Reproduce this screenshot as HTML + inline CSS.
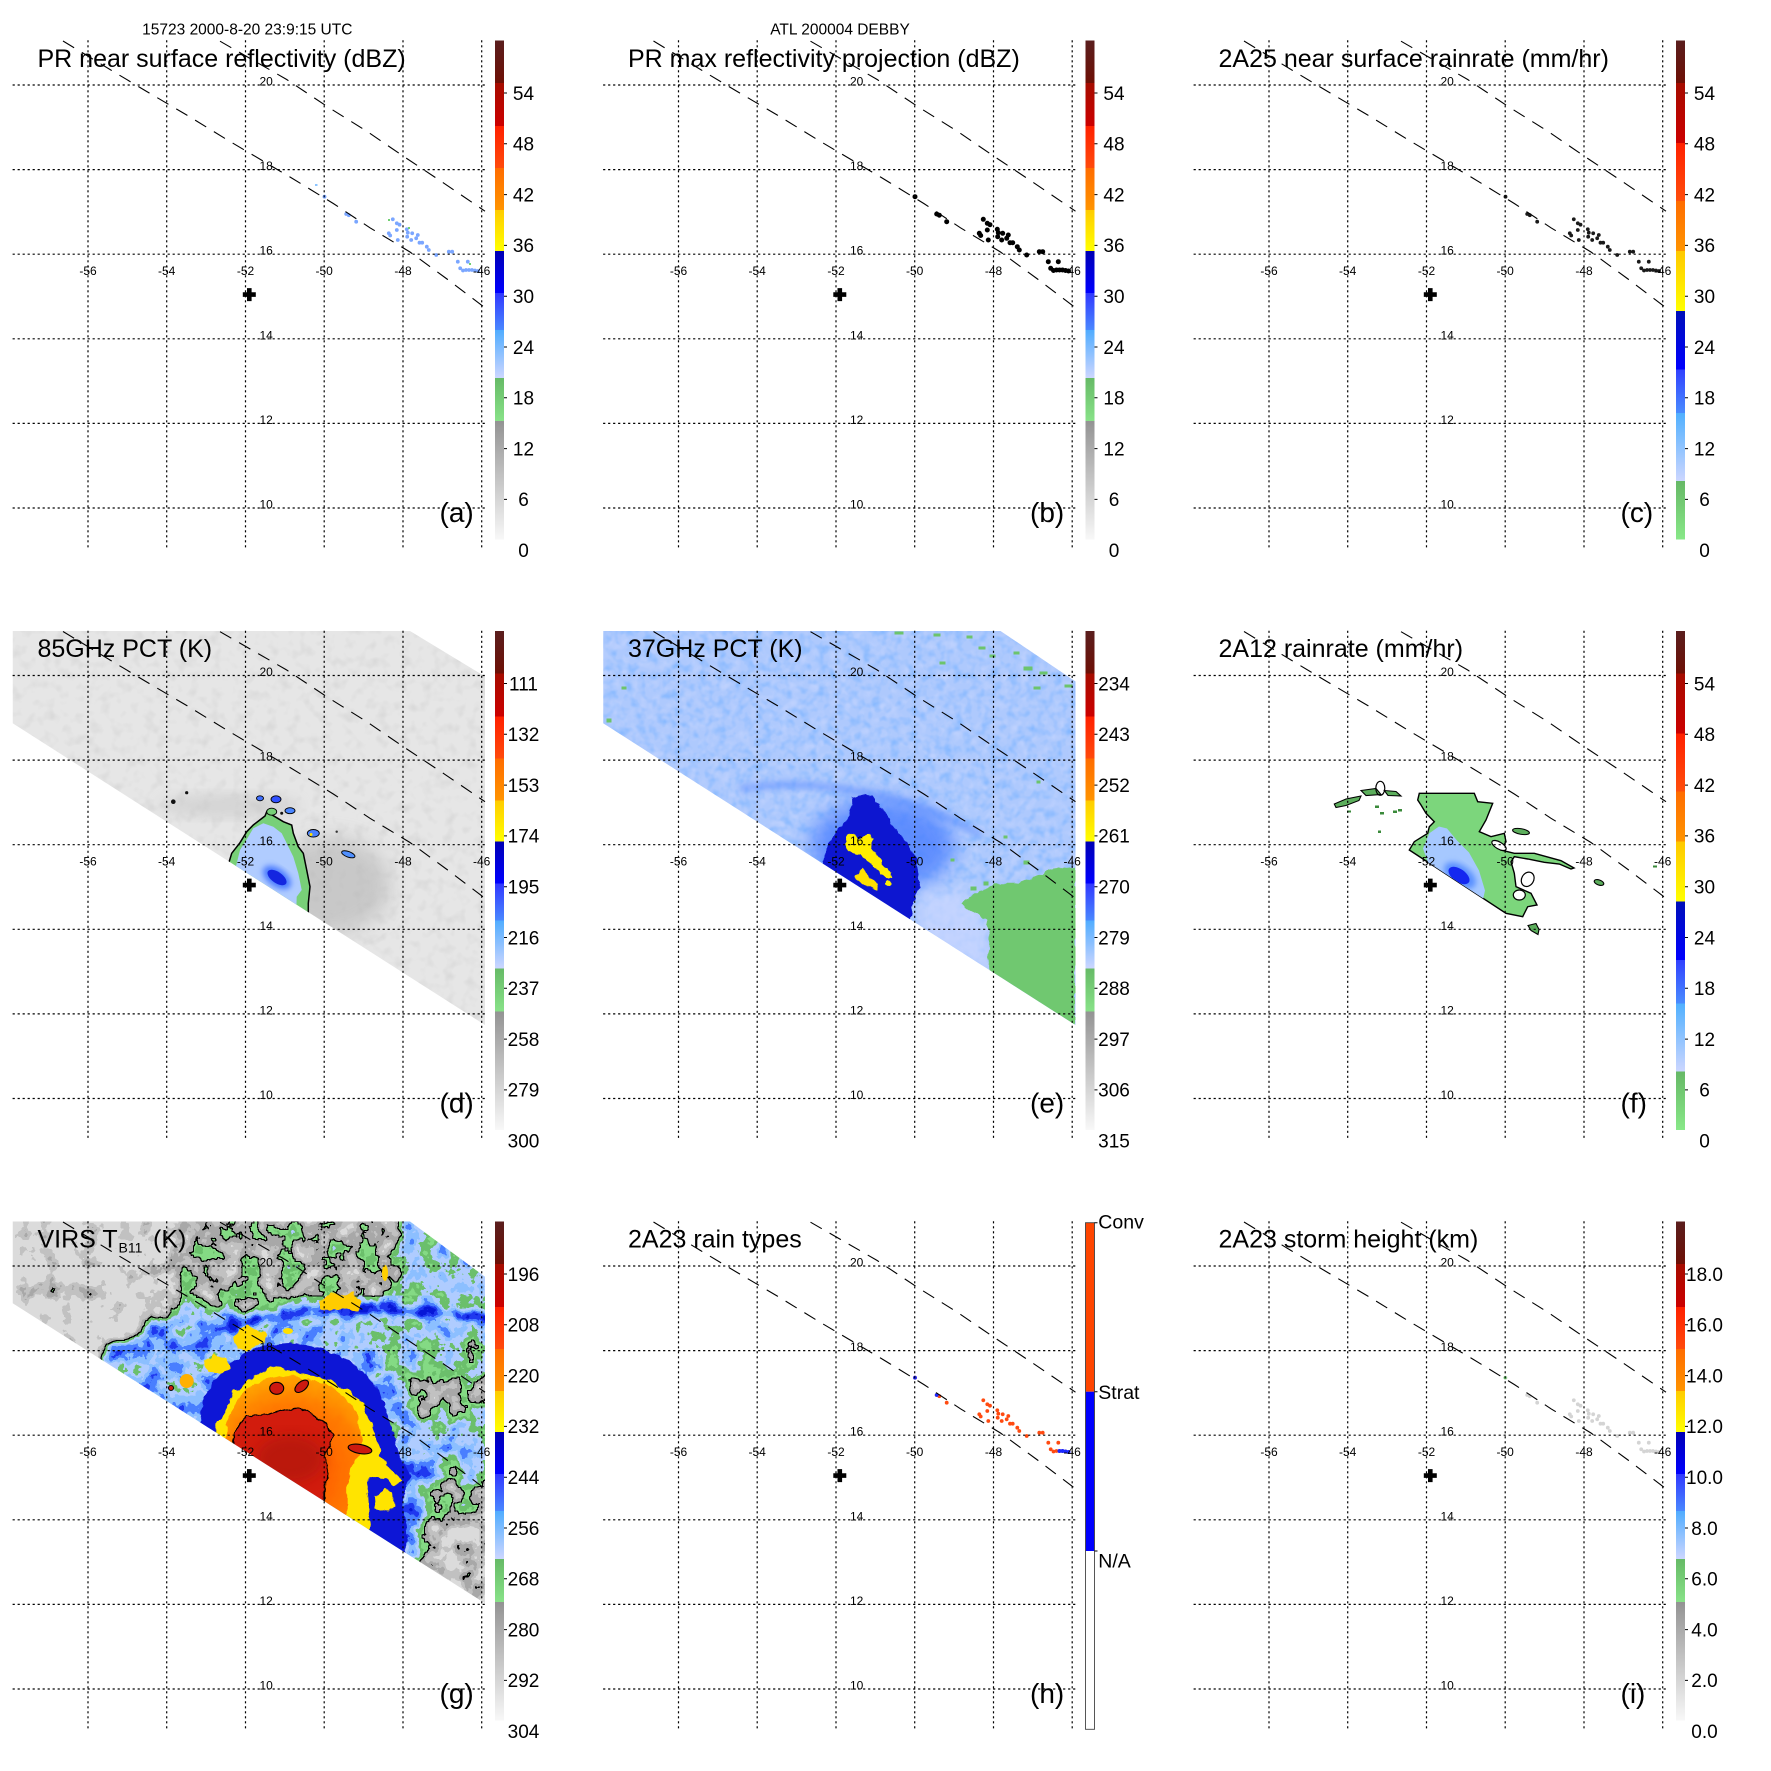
<!DOCTYPE html>
<html><head><meta charset="utf-8"><style>
html,body{margin:0;padding:0;background:#fff}
svg{display:block;font-family:"Liberation Sans",Arial,sans-serif}
</style></head><body>
<svg width="1771" height="1771" viewBox="0 0 1771 1771" xmlns="http://www.w3.org/2000/svg">
<rect width="1771" height="1771" fill="#fff"/>
<defs>
<clipPath id="plot"><rect x="12.6" y="40.2" width="473.6" height="509"/></clipPath>
<clipPath id="swD"><polygon points="12.7,40.5 410,40.5 485,86 485,434.5 12.7,132.8"/></clipPath>
<clipPath id="swE"><polygon points="12.7,40.5 410,40.5 485,91 485,434.5 12.7,132.8"/></clipPath>
<clipPath id="swG"><polygon points="12.7,40.5 410,40.5 485,95.7 485,422.3 12.7,122.3"/></clipPath>
<clipPath id="dStorm"><polygon points="231.7,262.8 240,252.2 246.7,241.2 253.3,234.5 265,225.5 266.7,221.2 275,226.2 283.3,231.2 291.7,234.5 293.3,242.8 298.3,256.2 303.3,262.8 306.7,279.5 310,296.2 308.3,312.8 308.3,330 225,285"/></clipPath>
<clipPath id="fMain"><path d="M238.3,202.8L293.3,202.8L296.7,211.2L311.7,212.8L305,229.5L298.3,241.2L310,246.2L323.3,242.8L325,251.2L320,259.5L333.3,262.8L353.3,262.8L380,270.2L393,277.5L390,278.5L378.3,273.5L363.3,271.8L346.7,268.5L333.3,266.2L330,271.2L333.3,282.8L335,296.2L350,302.8L356,314.5L346.7,316.2L341.7,326.2L325,322.8L228.3,259.5L233.3,251.2L246.7,242.8L248.3,236.2L253.3,231.2L245,222.8L240,214.5L236.7,209.5Z"/></clipPath>

<linearGradient id="cbG" gradientUnits="userSpaceOnUse" x1="0" y1="40.5" x2="0" y2="539.5">
<stop offset="0" stop-color="#5a1e1e"/><stop offset=".0852" stop-color="#6e1006"/>
<stop offset=".0852" stop-color="#a50c00"/><stop offset=".1713" stop-color="#cc0000"/>
<stop offset=".1713" stop-color="#ff2000"/><stop offset=".2555" stop-color="#ff4a0c"/>
<stop offset=".2555" stop-color="#ff6c00"/><stop offset=".3397" stop-color="#ff9400"/>
<stop offset=".3397" stop-color="#ffcc00"/><stop offset=".4218" stop-color="#ffff00"/>
<stop offset=".4218" stop-color="#0000b4"/><stop offset=".506" stop-color="#0000ff"/>
<stop offset=".506" stop-color="#3038ff"/><stop offset=".5802" stop-color="#4a88ff"/>
<stop offset=".5802" stop-color="#50acff"/><stop offset=".6764" stop-color="#ccd6ff"/>
<stop offset=".6764" stop-color="#66ba66"/><stop offset=".7625" stop-color="#88e288"/>
<stop offset=".7625" stop-color="#939393"/><stop offset="1" stop-color="#f8f8f8"/>
</linearGradient>
<linearGradient id="cbF" gradientUnits="userSpaceOnUse" x1="0" y1="40.5" x2="0" y2="539.5">
<stop offset="0" stop-color="#5a1e1e"/><stop offset=".0852" stop-color="#6e1006"/>
<stop offset=".0852" stop-color="#a50c00"/><stop offset=".2054" stop-color="#cc0000"/>
<stop offset=".2054" stop-color="#ff2000"/><stop offset=".3216" stop-color="#ff4e0c"/>
<stop offset=".3216" stop-color="#ff6c00"/><stop offset=".4218" stop-color="#ff9400"/>
<stop offset=".4218" stop-color="#ffc800"/><stop offset=".5421" stop-color="#ffff00"/>
<stop offset=".5421" stop-color="#0010b8"/><stop offset=".6593" stop-color="#0000ff"/>
<stop offset=".6593" stop-color="#3040ff"/><stop offset=".7465" stop-color="#4a8cff"/>
<stop offset=".7465" stop-color="#50b0ff"/><stop offset=".8828" stop-color="#ccd6ff"/>
<stop offset=".8828" stop-color="#66b866"/><stop offset="1" stop-color="#88e888"/>
</linearGradient>
<radialGradient id="orgG" gradientUnits="userSpaceOnUse" cx="292" cy="290" r="95">
<stop offset="0" stop-color="#ff4c00"/><stop offset=".7" stop-color="#ff7a00"/><stop offset="1" stop-color="#ffa400"/>
</radialGradient>

<filter id="b3" x="-20%" y="-20%" width="140%" height="140%"><feGaussianBlur stdDeviation="3"/></filter>
<filter id="b6" x="-20%" y="-20%" width="140%" height="140%"><feGaussianBlur stdDeviation="6"/></filter>
<filter id="b10" x="-30%" y="-30%" width="160%" height="160%"><feGaussianBlur stdDeviation="10"/></filter>
<filter id="rough" x="-10%" y="-10%" width="120%" height="120%"><feTurbulence type="fractalNoise" baseFrequency="0.11" numOctaves="2" seed="4" result="t"/><feDisplacementMap in="SourceGraphic" in2="t" scale="7" xChannelSelector="R" yChannelSelector="G"/></filter>
<filter id="nzG" x="0" y="0" width="1" height="1" color-interpolation-filters="sRGB"><feTurbulence type="fractalNoise" baseFrequency="0.09" numOctaves="2" seed="2"/><feColorMatrix type="matrix" values="0 0 0 0 0.82  0 0 0 0 0.82  0 0 0 0 0.82  1.6 0 0 0 -0.78"/></filter>
<filter id="nzB" x="0" y="0" width="1" height="1" color-interpolation-filters="sRGB"><feTurbulence type="fractalNoise" baseFrequency="0.11" numOctaves="2" seed="5"/><feColorMatrix type="matrix" values="0 0 0 0 0.52  0 0 0 0 0.72  0 0 0 0 1  2.2 0 0 0 -0.95"/></filter>
<filter id="nzL" x="0" y="0" width="1" height="1" color-interpolation-filters="sRGB"><feTurbulence type="fractalNoise" baseFrequency="0.1" numOctaves="2" seed="9"/><feColorMatrix type="matrix" values="0 0 0 0 0.8  0 0 0 0 0.85  0 0 0 0 1  2.2 0 0 0 -1.0"/></filter>
<filter id="irf" filterUnits="userSpaceOnUse" x="0" y="0" width="600" height="600" color-interpolation-filters="sRGB">
<feTurbulence type="fractalNoise" baseFrequency="0.05" numOctaves="4" seed="17" result="n"/>
<feColorMatrix in="n" type="matrix" values="1 0 0 0 0  1 0 0 0 0  1 0 0 0 0  0 0 0 0 1" result="ng"/>
<feComposite in="SourceGraphic" in2="ng" operator="arithmetic" k1="0" k2="1" k3="0.75" k4="-0.375" result="f"/>
<feComponentTransfer in="f" result="pal">
<feFuncR type="discrete" tableValues="0.031 0.125 0.29 0.55 0.69 0.42 0.52 0.66 0.76 0.86"/>
<feFuncG type="discrete" tableValues="0.094 0.22 0.5 0.75 0.8 0.75 0.855 0.66 0.76 0.86"/>
<feFuncB type="discrete" tableValues="0.847 0.94 1 1 1 0.42 0.52 0.66 0.76 0.86"/>
<feFuncA type="linear" slope="0" intercept="1"/>
</feComponentTransfer>
<feColorMatrix in="f" type="matrix" values="0 0 0 0 0  0 0 0 0 0  0 0 0 0 0  1 0 0 0 0" result="fa"/>
<feComponentTransfer in="fa" result="m"><feFuncA type="discrete" tableValues="0 0 0 0 0 0 0 1 1 1"/></feComponentTransfer>
<feMorphology in="m" operator="dilate" radius="0.8" result="md"/>
<feComposite in="md" in2="m" operator="out" result="e"/>
<feFlood flood-color="#000" result="k"/>
<feComposite in="k" in2="e" operator="in" result="ke"/>
<feMerge><feMergeNode in="pal"/><feMergeNode in="ke"/></feMerge>
</filter>

<g id="grid" fill="none" stroke="#000">
<g stroke-width="1.2" stroke-dasharray="2.2 2.8">
<path d="M88 40.2V549M166.7 40.2V549M245.5 40.2V549M324.2 40.2V549M403 40.2V549M481.7 40.2V549"/>
<path d="M12.6 85H486M12.6 169.6H486M12.6 254.2H486M12.6 338.8H486M12.6 423.4H486M12.6 508H486"/>
</g>
<g stroke-width="1.1" stroke-dasharray="13 9" clip-path="url(#plot)">
<path d="M220 41.2L286.7 79.5L326.7 106.2L366.7 131.2L403.3 156.2L443.3 182.8L485 211.2"/>
<path d="M63 41L110 69.5L146.7 91.5L186.7 115L226.7 139.5L290 177L333.3 203.5L370 227.8L410 252L447 279L485 307.8"/>
</g>
<path d="M242.8 292.3h13v4.6h-13zM247 288.1h4.6v13h-4.6z" fill="#000" stroke="none"/>
</g>

<g id="dots">
<circle cx="324.5" cy="196.7" r="1.9"/><circle cx="346.2" cy="214" r="1.9"/><circle cx="348.8" cy="215.2" r="1.9"/><circle cx="356.2" cy="221.7" r="1.9"/>
<circle cx="392.8" cy="219.3" r="1.9"/><circle cx="396.8" cy="223.3" r="1.9"/><circle cx="399.5" cy="224.7" r="1.9"/><circle cx="388.8" cy="233.3" r="1.9"/>
<circle cx="390.2" cy="235.5" r="1.9"/><circle cx="396.8" cy="230" r="1.9"/><circle cx="397.8" cy="240" r="1.9"/><circle cx="406.8" cy="229.3" r="1.9"/>
<circle cx="407.8" cy="232.7" r="1.9"/><circle cx="412.2" cy="233.3" r="1.9"/><circle cx="407.2" cy="236.7" r="1.9"/><circle cx="411.2" cy="240" r="1.9"/>
<circle cx="417.8" cy="235" r="1.9"/><circle cx="416.2" cy="238.3" r="1.9"/><circle cx="419.5" cy="242.7" r="1.9"/><circle cx="422.2" cy="242.7" r="1.9"/>
<circle cx="426.8" cy="246.7" r="1.9"/><circle cx="428.8" cy="250" r="1.9"/><circle cx="436.2" cy="255" r="1.9"/><circle cx="448.8" cy="251.7" r="1.9"/>
<circle cx="452.2" cy="251.7" r="1.9"/><circle cx="457.8" cy="261.7" r="1.9"/><circle cx="460.2" cy="268.3" r="1.9"/><circle cx="467.8" cy="261.7" r="1.9"/>
<circle cx="463" cy="270.5" r="1.9"/><circle cx="466" cy="270" r="1.9"/><circle cx="469" cy="270" r="1.9"/><circle cx="472" cy="270" r="1.9"/><circle cx="475" cy="270.5" r="1.9"/><circle cx="478" cy="271" r="1.9"/>
</g>
</defs>

<!-- ===================== PANEL A ===================== -->
<g transform="translate(0,0)">
<g clip-path="url(#plot)"><use href="#dots" fill="#5a90ff" opacity=".8"/>
<rect x="315" y="184" width="2.5" height="2" fill="#8cc4ff"/><rect x="388" y="219" width="2" height="2" fill="#70d070"/><rect x="408" y="227" width="2" height="2" fill="#70d070"/><rect x="469" y="263" width="2" height="2" fill="#70d070"/></g>
<use href="#grid"/>
<text x="247.3" y="34.5" font-size="15.5" text-anchor="middle">15723 2000-8-20 23:9:15 UTC</text>
<text x="37.5" y="67" font-size="25">PR near surface reflectivity (dBZ)</text>
<rect x="495" y="40.5" width="9" height="499" fill="url(#cbG)"/>
<g font-size="19" text-anchor="middle"><text x="523.5" y="99.8">54</text><text x="523.5" y="150.6">48</text><text x="523.5" y="201.4">42</text><text x="523.5" y="252.2">36</text><text x="523.5" y="303">30</text><text x="523.5" y="353.8">24</text><text x="523.5" y="404.6">18</text><text x="523.5" y="455.4">12</text><text x="523.5" y="506.2">6</text><text x="523.5" y="557">0</text></g>
<text x="439.5" y="522" font-size="28">(a)</text>
</g>

<!-- ===================== PANEL B ===================== -->
<g transform="translate(590.5,0)">
<g clip-path="url(#plot)"><use href="#dots" fill="#000" stroke="#000" stroke-width="1.2"/></g>
<use href="#grid"/>
<text x="249.5" y="34.5" font-size="15.5" text-anchor="middle">ATL 200004 DEBBY</text>
<text x="37.5" y="67" font-size="25">PR max reflectivity projection (dBZ)</text>
<rect x="495" y="40.5" width="9" height="499" fill="url(#cbG)"/>
<g font-size="19" text-anchor="middle"><text x="523.5" y="99.8">54</text><text x="523.5" y="150.6">48</text><text x="523.5" y="201.4">42</text><text x="523.5" y="252.2">36</text><text x="523.5" y="303">30</text><text x="523.5" y="353.8">24</text><text x="523.5" y="404.6">18</text><text x="523.5" y="455.4">12</text><text x="523.5" y="506.2">6</text><text x="523.5" y="557">0</text></g>
<text x="439.5" y="522" font-size="28">(b)</text>
</g>

<!-- ===================== PANEL C ===================== -->
<g transform="translate(1181,0)">
<g clip-path="url(#plot)"><use href="#dots" fill="#1a1a1a"/></g>
<use href="#grid"/>
<text x="37.5" y="67" font-size="25">2A25 near surface rainrate (mm/hr)</text>
<rect x="495" y="40.5" width="9" height="499" fill="url(#cbF)"/>
<g font-size="19" text-anchor="middle"><text x="523.5" y="99.8">54</text><text x="523.5" y="150.6">48</text><text x="523.5" y="201.4">42</text><text x="523.5" y="252.2">36</text><text x="523.5" y="303">30</text><text x="523.5" y="353.8">24</text><text x="523.5" y="404.6">18</text><text x="523.5" y="455.4">12</text><text x="523.5" y="506.2">6</text><text x="523.5" y="557">0</text></g>
<text x="439.5" y="522" font-size="28">(c)</text>
</g>

<!-- ===================== PANEL D ===================== -->
<g transform="translate(0,590.5)">
<g clip-path="url(#plot)"><g clip-path="url(#swD)">
<rect x="0" y="30" width="500" height="420" fill="#e6e6e6"/>
<rect x="0" y="30" width="500" height="420" fill="#000" filter="url(#nzG)"/>
<ellipse cx="330" cy="295" rx="60" ry="48" fill="#b4b4b4" opacity=".6" filter="url(#b10)"/>
<ellipse cx="230" cy="215" rx="70" ry="12" fill="#c4c4c4" opacity=".5" filter="url(#b6)"/>
<polygon points="231.7,262.8 240,252.2 246.7,241.2 253.3,234.5 265,225.5 266.7,221.2 275,226.2 283.3,231.2 291.7,234.5 293.3,242.8 298.3,256.2 303.3,262.8 306.7,279.5 310,296.2 308.3,312.8 308.3,330 225,285" fill="#78d078" stroke="#000" stroke-width="1.5"/>
<g clip-path="url(#dStorm)">
<polygon points="240,259.5 248.3,246.2 253.3,237.8 263.3,232.8 273.3,236.2 281.7,242.8 286.7,252.8 293.3,266.2 298.3,282.8 301.7,299.5 296.7,306.2 296,330 230,300" fill="#b0ccff"/>
<ellipse cx="277" cy="287" rx="16" ry="9" transform="rotate(35 277 287)" fill="#4c7cff" filter="url(#b3)"/>
<ellipse cx="277" cy="287" rx="11" ry="5.5" transform="rotate(35 277 287)" fill="#1426e0"/>
</g>
<ellipse cx="260" cy="207.8" rx="3.5" ry="2.5" fill="#4070ff" stroke="#000" stroke-width=".9"/>
<ellipse cx="276" cy="208.8" rx="5" ry="3.5" fill="#3050ff" stroke="#000" stroke-width=".9"/>
<ellipse cx="290" cy="220.2" rx="5" ry="3" fill="#4a86ff" stroke="#000" stroke-width=".9"/>
<ellipse cx="271.7" cy="221.2" rx="5" ry="3.5" fill="#78d078" stroke="#000" stroke-width=".9"/>
<ellipse cx="313.3" cy="242.8" rx="6" ry="3.8" fill="#4a80ff" stroke="#000" stroke-width=".9"/><circle cx="311" cy="244" r="1.5" fill="#ffe000"/>
<ellipse cx="348.3" cy="263.8" rx="7" ry="2.8" transform="rotate(20 348.3 263.8)" fill="#5090ff" stroke="#000" stroke-width=".9"/>
<circle cx="173.3" cy="211.2" r="2.3" fill="#111"/><circle cx="186.7" cy="202.2" r="1.6" fill="#111"/><circle cx="281.7" cy="222.8" r="1.5" fill="#111"/><circle cx="336.7" cy="241.2" r="1.2" fill="#333"/>
</g></g>
<use href="#grid"/>
<text x="37.5" y="66.5" font-size="25">85GHz PCT (K)</text>
<rect x="495" y="40.5" width="9" height="499" fill="url(#cbG)"/>
<g font-size="19" text-anchor="middle"><text x="523.5" y="99.8">111</text><text x="523.5" y="150.6">132</text><text x="523.5" y="201.4">153</text><text x="523.5" y="252.2">174</text><text x="523.5" y="303">195</text><text x="523.5" y="353.8">216</text><text x="523.5" y="404.6">237</text><text x="523.5" y="455.4">258</text><text x="523.5" y="506.2">279</text><text x="523.5" y="557">300</text></g>
<text x="439.5" y="522" font-size="28">(d)</text>
</g>

<!-- ===================== PANEL E ===================== -->
<g transform="translate(590.5,590.5)">
<g clip-path="url(#plot)"><g clip-path="url(#swE)">
<rect x="0" y="30" width="500" height="420" fill="#aec9fd"/>
<rect x="0" y="30" width="500" height="420" fill="#000" filter="url(#nzB)"/>
<rect x="0" y="30" width="500" height="420" fill="#000" filter="url(#nzL)" opacity=".6"/>
<ellipse cx="292" cy="255" rx="72" ry="46" fill="#4c7fff" opacity=".8" filter="url(#b10)"/>
<path d="M150 198Q220 188 290 206T390 245" fill="none" stroke="#5a8cff" stroke-width="8" opacity=".5" filter="url(#b3)"/>
<polygon points="330,300 372,300 396,330 396,385 330,352" fill="#c8d6ff" opacity=".75" filter="url(#b6)"/>
<g filter="url(#rough)">
<polygon points="234.5,262.8 242.8,246.2 252.8,232.8 259.5,222.8 262.8,206.2 272.8,202.8 282.8,206.2 289.5,216.2 299.5,229.5 309.5,242.8 319.5,256.2 326.2,272.8 329.5,292.8 325,310 320,330 230,290" fill="#0a18d0"/>
<polygon points="256.2,246.2 262.8,242.8 266.2,249.5 274.5,245.5 279.5,242.8 282.8,249.5 279.5,256.2 284.5,262.8 289.5,269.5 296.2,277.8 301.2,282.8 302.8,286.2 297.8,287.8 289.5,282.8 282.8,276.2 276.2,269.5 269.5,264.5 262.8,262.8 256.2,259.5 254.5,252.8" fill="#ffee00"/>
<polygon points="266.2,282.8 272.8,277.8 279.5,282.8 284.5,292.8 286.2,299.5 279.5,297.8 269.5,292.8 264.5,286.2" fill="#ffe000"/>
<circle cx="298" cy="294" r="3.5" fill="#ffee00"/>
<polygon points="485,276.2 459.5,279.5 442.8,286.2 426.2,292.8 402.8,292.8 386.2,302.8 369.5,312.8 382.8,322.8 396.2,329.5 399.5,349.5 396.2,366.2 399.5,376.2 399.5,400 485,440" fill="#70c870"/>
</g>
<g fill="#6cc46c"><rect x="304" y="41" width="9" height="3"/><rect x="343" y="43" width="7" height="3"/><rect x="376" y="45" width="6" height="3"/><rect x="388" y="56" width="7" height="3"/><rect x="349" y="71" width="6" height="3"/><rect x="433" y="76" width="9" height="4"/><rect x="449" y="81" width="8" height="3"/><rect x="443" y="96" width="7" height="3"/><rect x="474" y="94" width="8" height="3"/><rect x="423" y="61" width="6" height="3"/><rect x="399" y="64" width="6" height="3"/><rect x="31" y="96" width="5" height="3"/><rect x="16" y="128" width="5" height="4"/><rect x="446" y="190" width="4" height="3"/><rect x="413" y="245" width="4" height="3"/><rect x="433" y="270" width="6" height="4"/><rect x="393" y="291" width="5" height="4"/><rect x="380" y="296" width="6" height="4"/><rect x="360" y="268" width="4" height="3"/></g>
</g></g>
<use href="#grid"/>
<text x="37.5" y="66.5" font-size="25">37GHz PCT (K)</text>
<rect x="495" y="40.5" width="9" height="499" fill="url(#cbG)"/>
<g font-size="19" text-anchor="middle"><text x="523.5" y="99.8">234</text><text x="523.5" y="150.6">243</text><text x="523.5" y="201.4">252</text><text x="523.5" y="252.2">261</text><text x="523.5" y="303">270</text><text x="523.5" y="353.8">279</text><text x="523.5" y="404.6">288</text><text x="523.5" y="455.4">297</text><text x="523.5" y="506.2">306</text><text x="523.5" y="557">315</text></g>
<text x="439.5" y="522" font-size="28">(e)</text>
</g>

<!-- ===================== PANEL F ===================== -->
<g transform="translate(1181,590.5)">
<g clip-path="url(#plot)">
<path d="M238.3,202.8L293.3,202.8L296.7,211.2L311.7,212.8L305,229.5L298.3,241.2L310,246.2L323.3,242.8L325,251.2L320,259.5L333.3,262.8L353.3,262.8L380,270.2L393,277.5L390,278.5L378.3,273.5L363.3,271.8L346.7,268.5L333.3,266.2L330,271.2L333.3,282.8L335,296.2L350,302.8L356,314.5L346.7,316.2L341.7,326.2L325,322.8L228.3,259.5L233.3,251.2L246.7,242.8L248.3,236.2L253.3,231.2L245,222.8L240,214.5L236.7,209.5Z" fill="#7cd67c" stroke="#000" stroke-width="1.4"/>
<g clip-path="url(#fMain)">
<polygon points="242,258 248.3,242.8 258,236 266,238 276,250 288,262 298,280 304,300 300,318 285,320 266,300 250,280" fill="#a6c8ff"/>
<ellipse cx="279" cy="285" rx="18" ry="10" transform="rotate(35 279 285)" fill="#5a90ff" filter="url(#b3)"/>
<ellipse cx="278" cy="285" rx="12" ry="6.5" transform="rotate(35 278 285)" fill="#1428f0"/>
</g>
<ellipse cx="318" cy="255" rx="8" ry="3.5" transform="rotate(30 318 255)" fill="#fff" stroke="#000" stroke-width="1.2"/>
<ellipse cx="346.7" cy="288.8" rx="6" ry="7.5" transform="rotate(30 346.7 288.8)" fill="#fff" stroke="#000" stroke-width="1.2"/>
<ellipse cx="338.3" cy="304.5" rx="6" ry="5" fill="#fff" stroke="#000" stroke-width="1.2"/>
<g fill="#5cae5c" stroke="#000" stroke-width="1.1">
<polygon points="153.3,213.5 165,208.5 180,205.5 178,210 165,215 155,217"/>
<polygon points="180,200 195,198 200,204 185,205"/>
<polygon points="203.3,200 215,201 220,205.5 207,205"/>
<ellipse cx="340" cy="241" rx="8.5" ry="2.8" transform="rotate(10 340 241)"/>
<ellipse cx="418" cy="292" rx="5" ry="2.5" transform="rotate(20 418 292)"/>
<polygon points="347,335 355,333 358,339 357,344 350,340"/>
</g>
<ellipse cx="199.3" cy="197.8" rx="4.5" ry="7" fill="none" stroke="#000" stroke-width="1.2"/>
<g fill="#3a8a3a"><rect x="194" y="215" width="4" height="2.5"/><rect x="199" y="221.5" width="4" height="2.5"/><rect x="212" y="220" width="4" height="2.5"/><rect x="217" y="218.5" width="4" height="2.5"/><rect x="197" y="240" width="3" height="2.5"/><rect x="472" y="275" width="4" height="2"/><rect x="166" y="220" width="4" height="2"/></g>
</g>
<use href="#grid"/>
<text x="37.5" y="66.5" font-size="25">2A12 rainrate (mm/hr)</text>
<rect x="495" y="40.5" width="9" height="499" fill="url(#cbF)"/>
<g font-size="19" text-anchor="middle"><text x="523.5" y="99.8">54</text><text x="523.5" y="150.6">48</text><text x="523.5" y="201.4">42</text><text x="523.5" y="252.2">36</text><text x="523.5" y="303">30</text><text x="523.5" y="353.8">24</text><text x="523.5" y="404.6">18</text><text x="523.5" y="455.4">12</text><text x="523.5" y="506.2">6</text><text x="523.5" y="557">0</text></g>
<text x="439.5" y="522" font-size="28">(f)</text>
</g>

<!-- ===================== PANEL G ===================== -->
<g transform="translate(0,1181)">
<g clip-path="url(#plot)">
<g clip-path="url(#swG)" filter="url(#irf)">
<rect x="0" y="30" width="500" height="420" fill="rgb(245,245,245)"/>
<polygon points="100,185 140,158 160,125 172,95 182,35 495,35 495,335 455,348 430,370 415,400 300,400 100,200" fill="rgb(186,186,186)" filter="url(#b6)"/>
<polygon points="400,35 495,35 495,122 400,112" fill="rgb(112,112,112)" filter="url(#b6)"/>
<polygon points="320,140 495,140 495,192 400,197 340,177" fill="rgb(125,125,125)" filter="url(#b6)"/>
<polygon points="102,184 120,162 150,142 200,122 232,130 215,182 200,245 150,220" fill="rgb(85,85,85)" filter="url(#b6)"/>
<polygon points="420,234 495,230 495,302 420,302" fill="rgb(115,115,115)" filter="url(#b6)"/>
<polygon points="415,392 440,362 495,342 495,440 415,440" fill="rgb(225,225,225)" filter="url(#b6)"/>
<path d="M106.7 176L140 178L166.7 190.7L200 160.7L233.3 144L283.3 134L333.3 129L383.3 127.3L433.3 130.7L490 137.3" fill="none" stroke="rgb(95,95,95)" stroke-width="26" filter="url(#b6)"/>
<path d="M200 160.7L233.3 144L283.3 134L333.3 129L383.3 127.3L433.3 130.7L490 137.3" fill="none" stroke="rgb(28,28,28)" stroke-width="9" filter="url(#b3)"/>
<polygon points="180,220.7 186.7,194 200,174 220,157.3 253.3,147.3 293.3,144 333.3,147.3 366.7,160.7 393.3,184 413.3,220.7 426.7,267.3 433.3,300.7 433.3,334 416.7,367.3 416.7,420 180,300" fill="rgb(92,92,92)" filter="url(#b6)"/>
</g>
<g clip-path="url(#swG)">
<g filter="url(#rough)">
<polygon points="200,244 203.3,220.7 213.3,200.7 226.7,184 246.7,170.7 266.7,164 293.3,162.3 320,167.3 346.7,177.3 366.7,194 380,214 390,240.7 396.7,267.3 410,294 403.3,320.7 406.7,354 406.7,420 200,300" fill="#0a16d6"/>
<polygon points="216.7,244 226.7,227.3 233.3,210.7 243.3,204 260,192.3 276.7,185.7 293.3,190.7 313.3,194 333.3,200.7 350,210.7 363.3,224 371.7,240.7 376.7,260.7 380,274 390,287.3 403.3,300.7 395,303 383,298 370,296 366,310 368,330 370,345 370,420 216.7,300" fill="#ffe400"/>
<polygon points="226.7,240.7 236.7,220.7 246.7,207.3 266.7,197.3 290,194 313.3,199 333.3,207.3 350,220.7 358.3,237.3 361.7,254 360,274 350,287.3 346.7,307.3 346.7,324 346.7,420 226.7,300" fill="url(#orgG)"/>
<polygon points="233.3,252.3 246.7,234 266.7,234 286.7,229 300,227.3 313.3,234 326.7,244 333.3,254 330,264 323.3,274 328.3,287.3 325,310.7 325,420 233.3,300" fill="#d21c10" stroke="#000" stroke-width="1.3"/>
<polygon points="375,315 385,308 393,312 395,325 385,330 376,328" fill="#ffe400"/>
<polygon points="233.3,157.3 240,147.3 248.3,144 256.7,149 266.7,154 263.3,162.3 253.3,165.7 246.7,170.7 238.3,169" fill="#ffd800"/>
<polygon points="320,120.7 330,112.3 343.3,114 353.3,110.7 360,120.7 356.7,130.7 343.3,127.3 330,130.7 321.7,127.3" fill="#ffcc00"/>
<polygon points="203.3,180.7 213.3,174 226.7,177.3 230,187.3 220,192.3 208.3,190.7" fill="#ffdc00"/>
</g>
<ellipse cx="290" cy="278" rx="34" ry="24" fill="#a8140c" opacity=".55" filter="url(#b6)"/>
<ellipse cx="186.7" cy="200" rx="7" ry="7" fill="#ffb000"/>
<ellipse cx="288" cy="150" rx="5" ry="3" fill="#ffe000"/>
<ellipse cx="385" cy="92" rx="3" ry="8" fill="#ffd000"/>
<ellipse cx="276.7" cy="207.3" rx="7" ry="6" fill="#cc1a10" stroke="#000" stroke-width="1.1"/>
<ellipse cx="301.7" cy="205.3" rx="8" ry="4.5" transform="rotate(-40 301.7 205.3)" fill="#cc1a10" stroke="#000" stroke-width="1.1"/>
<ellipse cx="360" cy="268" rx="12" ry="4.5" transform="rotate(10 360 268)" fill="#cc1a10" stroke="#000" stroke-width="1.1"/>
<ellipse cx="171" cy="207" rx="2.5" ry="2.5" fill="#cc1a10" stroke="#000" stroke-width="1"/>
</g>
</g>
<use href="#grid"/>
<text x="37.5" y="66.5" font-size="25">VIRS T<tspan x="118.5" dy="4.8" font-size="14">B11</tspan><tspan x="153" dy="-4.8">(K)</tspan></text>
<rect x="495" y="40.5" width="9" height="499" fill="url(#cbG)"/>
<g font-size="19" text-anchor="middle"><text x="523.5" y="99.8">196</text><text x="523.5" y="150.6">208</text><text x="523.5" y="201.4">220</text><text x="523.5" y="252.2">232</text><text x="523.5" y="303">244</text><text x="523.5" y="353.8">256</text><text x="523.5" y="404.6">268</text><text x="523.5" y="455.4">280</text><text x="523.5" y="506.2">292</text><text x="523.5" y="557">304</text></g>
<text x="439.5" y="522" font-size="28">(g)</text>
</g>

<!-- ===================== PANEL H ===================== -->
<g transform="translate(590.5,1181)">
<g clip-path="url(#plot)"><use href="#dots" fill="#ff4a10"/>
<g fill="#1a28ff"><circle cx="324.5" cy="196.7" r="1.9"/><circle cx="346.2" cy="214" r="1.9"/><circle cx="469" cy="270" r="2"/><circle cx="472" cy="270" r="2"/><circle cx="475" cy="270.5" r="2"/><circle cx="478" cy="271" r="2"/></g></g>
<use href="#grid"/>
<text x="37.5" y="66.5" font-size="25">2A23 rain types</text>
<rect x="495" y="41.7" width="9" height="169" fill="#ff4500"/>
<rect x="495" y="210.7" width="9" height="159.3" fill="#0000ff"/>
<rect x="495" y="370" width="9" height="178.3" fill="#fff"/>
<rect x="495" y="41.7" width="9" height="506.6" fill="none" stroke="#444" stroke-width=".9"/>
<path d="M504 41.7h3M504 210.7h3M504 370h3" stroke="#000" stroke-width="1"/>
<g font-size="19.5"><text x="507.8" y="47.5">Conv</text><text x="507.8" y="218">Strat</text><text x="507.8" y="386.5">N/A</text></g>
<text x="439.5" y="522" font-size="28">(h)</text>
</g>

<!-- ===================== PANEL I ===================== -->
<g transform="translate(1181,1181)">
<g clip-path="url(#plot)"><use href="#dots" fill="#d4d4d4"/><circle cx="324.2" cy="196.7" r="1.6" fill="#70d070"/></g>
<use href="#grid"/>
<text x="37.5" y="66.5" font-size="25">2A23 storm height (km)</text>
<rect x="495" y="40.5" width="9" height="499" fill="url(#cbG)"/>
<g font-size="19" text-anchor="middle"><text x="523.5" y="99.8">18.0</text><text x="523.5" y="150.6">16.0</text><text x="523.5" y="201.4">14.0</text><text x="523.5" y="252.2">12.0</text><text x="523.5" y="303">10.0</text><text x="523.5" y="353.8">8.0</text><text x="523.5" y="404.6">6.0</text><text x="523.5" y="455.4">4.0</text><text x="523.5" y="506.2">2.0</text><text x="523.5" y="557">0.0</text></g>
<text x="439.5" y="522" font-size="28">(i)</text>
</g>

<!-- grid tick labels for all nine panels -->
<g font-size="12">
<g transform="translate(0,0)"><text x="259.5" y="85.5">20</text><text x="259.5" y="170">18</text><text x="259.5" y="254.7">16</text><text x="259.5" y="339.3">14</text><text x="259.5" y="423.9">12</text><text x="259.5" y="508.5">10</text><g text-anchor="middle"><text x="88" y="275">-56</text><text x="166.7" y="275">-54</text><text x="245.5" y="275">-52</text><text x="324.2" y="275">-50</text><text x="403" y="275">-48</text><text x="481.7" y="275">-46</text></g></g>
<g transform="translate(590.5,0)"><text x="259.5" y="85.5">20</text><text x="259.5" y="170">18</text><text x="259.5" y="254.7">16</text><text x="259.5" y="339.3">14</text><text x="259.5" y="423.9">12</text><text x="259.5" y="508.5">10</text><g text-anchor="middle"><text x="88" y="275">-56</text><text x="166.7" y="275">-54</text><text x="245.5" y="275">-52</text><text x="324.2" y="275">-50</text><text x="403" y="275">-48</text><text x="481.7" y="275">-46</text></g></g>
<g transform="translate(1181,0)"><text x="259.5" y="85.5">20</text><text x="259.5" y="170">18</text><text x="259.5" y="254.7">16</text><text x="259.5" y="339.3">14</text><text x="259.5" y="423.9">12</text><text x="259.5" y="508.5">10</text><g text-anchor="middle"><text x="88" y="275">-56</text><text x="166.7" y="275">-54</text><text x="245.5" y="275">-52</text><text x="324.2" y="275">-50</text><text x="403" y="275">-48</text><text x="481.7" y="275">-46</text></g></g>
<g transform="translate(0,590.5)"><text x="259.5" y="85.5">20</text><text x="259.5" y="170">18</text><text x="259.5" y="254.7">16</text><text x="259.5" y="339.3">14</text><text x="259.5" y="423.9">12</text><text x="259.5" y="508.5">10</text><g text-anchor="middle"><text x="88" y="275">-56</text><text x="166.7" y="275">-54</text><text x="245.5" y="275">-52</text><text x="324.2" y="275">-50</text><text x="403" y="275">-48</text><text x="481.7" y="275">-46</text></g></g>
<g transform="translate(590.5,590.5)"><text x="259.5" y="85.5">20</text><text x="259.5" y="170">18</text><text x="259.5" y="254.7">16</text><text x="259.5" y="339.3">14</text><text x="259.5" y="423.9">12</text><text x="259.5" y="508.5">10</text><g text-anchor="middle"><text x="88" y="275">-56</text><text x="166.7" y="275">-54</text><text x="245.5" y="275">-52</text><text x="324.2" y="275">-50</text><text x="403" y="275">-48</text><text x="481.7" y="275">-46</text></g></g>
<g transform="translate(1181,590.5)"><text x="259.5" y="85.5">20</text><text x="259.5" y="170">18</text><text x="259.5" y="254.7">16</text><text x="259.5" y="339.3">14</text><text x="259.5" y="423.9">12</text><text x="259.5" y="508.5">10</text><g text-anchor="middle"><text x="88" y="275">-56</text><text x="166.7" y="275">-54</text><text x="245.5" y="275">-52</text><text x="324.2" y="275">-50</text><text x="403" y="275">-48</text><text x="481.7" y="275">-46</text></g></g>
<g transform="translate(0,1181)"><text x="259.5" y="85.5">20</text><text x="259.5" y="170">18</text><text x="259.5" y="254.7">16</text><text x="259.5" y="339.3">14</text><text x="259.5" y="423.9">12</text><text x="259.5" y="508.5">10</text><g text-anchor="middle"><text x="88" y="275">-56</text><text x="166.7" y="275">-54</text><text x="245.5" y="275">-52</text><text x="324.2" y="275">-50</text><text x="403" y="275">-48</text><text x="481.7" y="275">-46</text></g></g>
<g transform="translate(590.5,1181)"><text x="259.5" y="85.5">20</text><text x="259.5" y="170">18</text><text x="259.5" y="254.7">16</text><text x="259.5" y="339.3">14</text><text x="259.5" y="423.9">12</text><text x="259.5" y="508.5">10</text><g text-anchor="middle"><text x="88" y="275">-56</text><text x="166.7" y="275">-54</text><text x="245.5" y="275">-52</text><text x="324.2" y="275">-50</text><text x="403" y="275">-48</text><text x="481.7" y="275">-46</text></g></g>
<g transform="translate(1181,1181)"><text x="259.5" y="85.5">20</text><text x="259.5" y="170">18</text><text x="259.5" y="254.7">16</text><text x="259.5" y="339.3">14</text><text x="259.5" y="423.9">12</text><text x="259.5" y="508.5">10</text><g text-anchor="middle"><text x="88" y="275">-56</text><text x="166.7" y="275">-54</text><text x="245.5" y="275">-52</text><text x="324.2" y="275">-50</text><text x="403" y="275">-48</text><text x="481.7" y="275">-46</text></g></g>
</g>

<!-- colorbar ticks -->
<g stroke="#000" stroke-width="1">
<path id="tk" d="M504 93h3M504 143.8h3M504 194.6h3M504 245.4h3M504 296.2h3M504 347h3M504 397.8h3M504 448.6h3M504 499.4h3"/>
<use href="#tk" x="590.5"/><use href="#tk" x="1181"/><use href="#tk" y="590.5"/><use href="#tk" x="590.5" y="590.5"/><use href="#tk" x="1181" y="590.5"/><use href="#tk" y="1181"/><use href="#tk" x="1181" y="1181"/>
</g>
</svg>
</body></html>
